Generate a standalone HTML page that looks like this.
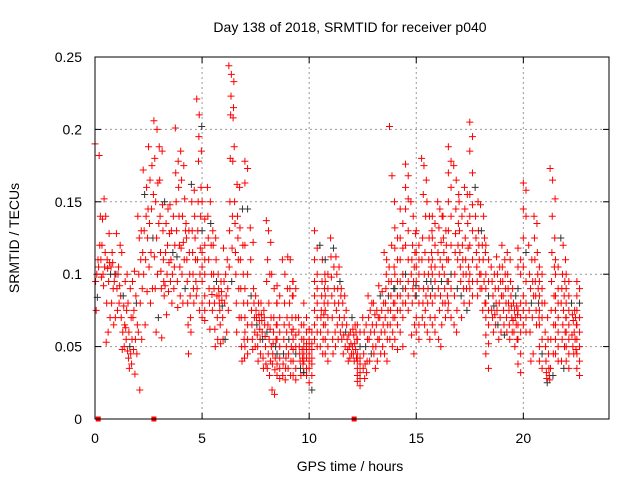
<!DOCTYPE html>
<html><head><meta charset="utf-8"><title>SRMTID p040</title>
<style>
html,body{margin:0;padding:0;background:#fff;}
svg{display:block;font-family:"Liberation Sans",sans-serif;}
</style></head>
<body>
<svg id="chart" width="640" height="480" viewBox="0 0 640 480" xmlns="http://www.w3.org/2000/svg">
<rect width="640" height="480" fill="#fff"/>
<text x="350" y="32" font-size="14" text-anchor="middle" fill="#000">Day 138 of 2018, SRMTID for receiver p040</text>
<text x="350" y="471" font-size="14" text-anchor="middle" fill="#000">GPS time / hours</text>
<text transform="translate(19,238) rotate(-90)" font-size="14" text-anchor="middle" fill="#000">SRMTID / TECUs</text>
<g id="grid"></g>
<g id="ticks"></g>
<g id="marks"></g>
<rect x="95" y="57" width="514" height="362" fill="none" stroke="#000" stroke-width="1"/>
</svg>
<script>
const xTicks = [0,5,10,15,20];
const yTicks = [0,0.05,0.1,0.15,0.2,0.25];
const yTickLabels = ["0","0.05","0.1","0.15","0.2","0.25"];
const binStarts = [0,0.25,0.5,0.75,1,1.25,1.5,1.75,2,2.25,2.5,2.75,3,3.25,3.5,3.75,4,4.25,4.5,4.75,5,5.25,5.5,5.75,6,6.25,6.5,6.75,7,7.25,7.5,7.75,8,8.25,8.5,8.75,9,9.25,9.5,9.75,10,10.25,10.5,10.75,11,11.25,11.5,11.75,12,12.25,12.5,12.75,13,13.25,13.5,13.75,14,14.25,14.5,14.75,15,15.25,15.5,15.75,16,16.25,16.5,16.75,17,17.25,17.5,17.75,18,18.25,18.5,18.75,19,19.25,19.5,19.75,20,20.25,20.5,20.75,21,21.25,21.5,21.75,22,22.25,22.5];
// values in milli-TECU per bin
const binValues = [
[190,182,110,100,95,120,105,84,75],
[140,152,138,110,105,100,98,115,92,120],
[140,128,110,100,95,80,70,60,53,108,104],
[105,100,90,80,70,65,115,100,95,108],
[128,120,105,90,85,80,75,70,92,100],
[115,95,85,75,65,60,55,50,48,63,78],
[100,90,80,70,60,55,50,47,45,42,38,35],
[95,85,75,65,55,48,45,31,70,80,102],
[140,130,125,115,110,100,90,80,60,55,20],
[172,160,155,145,140,130,125,110,100,88,65],
[188,175,165,155,145,135,125,115,105,90,80],
[206,200,180,163,150,135,125,112,100,90,70,60],
[188,185,165,148,140,130,115,110,102,95,90,85,56],
[150,145,135,128,120,115,108,100,92,88,72],
[148,140,130,120,115,110,105,100,95,90,80],
[201,178,170,160,150,140,130,120,112,105,95,85,77],
[185,175,165,152,140,130,122,118,110,100,90,80],
[135,130,125,115,110,100,95,85,80,70,65,60,45],
[162,158,150,140,130,125,115,110,100,95,90,85,80],
[221,210,202,195,185,178,160,150,140,130,118,110,100,90,75],
[150,138,130,120,115,110,105,100,95,85,80,75,70,68],
[160,150,140,135,125,120,110,100,90,86,80,75,62],
[130,125,120,110,100,95,90,85,80,70,62,55,50],
[100,95,90,88,85,82,80,78,75,70,65,55,52],
[118,110,100,95,90,85,80,75,60,55],
[244,238,233,223,215,210,208,180,178,150,140,130,118,105,95],
[188,162,150,140,135,125,115,110,100,90,80,70,60],
[160,145,132,120,110,100,90,80,70,55,50,42,40],
[178,173,163,145,120,100,90,80,70,65,60,55,50,45],
[132,122,110,90,85,80,75,70,65,60,55,50,48],
[85,80,75,72,70,68,65,62,58,55,50,45,40],
[80,75,72,70,68,65,60,57,55,50,42,38,35],
[137,130,122,110,100,95,80,70,65,62,60,55,50,45,40,35,30],
[100,90,80,70,65,60,55,52,50,45,42,38,34,20,17],
[92,85,80,70,65,60,55,50,45,42,38,35,30,28],
[110,100,90,80,70,65,60,55,50,45,42,38,35,30,27],
[112,110,95,90,85,80,70,65,60,55,50,45,40,35,30],
[95,90,85,70,62,58,55,50,48,45,40,35,30,27],
[70,65,60,55,50,48,45,42,40,38,35,32,30],
[80,70,65,60,55,52,50,48,45,42,40,35,32,30],
[62,60,55,52,50,48,45,42,40,38,35,30,25,20],
[130,118,110,100,95,90,85,80,75,70,65,60,55,50],
[120,110,100,95,90,85,80,75,72,70,65,60,55,50,45],
[110,100,95,90,85,80,75,70,65,60,55,50,45,40],
[125,118,112,105,98,90,85,80,70,60,55,50,45],
[112,105,100,95,90,85,80,75,70,65,60,55],
[90,85,80,75,70,65,60,58,55,50,45],
[65,60,58,55,52,50,48,45,42,40],
[70,65,62,60,58,55,52,50,48,45,42,40],
[65,60,55,50,45,42,40,38,35,32,30,28,26,23],
[70,65,60,55,50,45,40,38,35,32,28],
[85,80,75,70,65,60,55,50,45,40],
[80,75,72,70,65,60,55,50,45,40,35],
[92,88,85,80,75,70,65,60,55,50,45],
[115,110,105,100,95,90,85,80,75,70,65,60,55,45,40],
[202,168,150,120,105,95,90,85,80,75,70,65,60,55,50],
[132,125,118,110,100,95,90,85,80,75,70,65,55,48],
[145,135,125,118,110,100,95,90,85,80,75,70,60,50],
[176,168,160,152,145,130,120,110,100,95,90,85,80,75],
[150,140,128,120,115,110,105,100,95,92,90,85,80,65,58,45],
[130,120,115,110,105,100,95,90,85,80,70,65,60,55],
[180,175,165,155,140,125,115,110,100,95,90,85,80,75,70,65],
[150,140,130,125,115,110,105,100,95,90,85,80,70,60,55],
[140,135,125,120,110,105,100,95,90,85,80,70,65,60],
[150,145,140,132,122,115,110,105,100,95,90,85,80,75,65,55,50],
[140,130,125,120,115,110,100,95,90,85,80,75,70],
[188,178,170,160,150,140,130,120,110,100,95,90,80,70],
[175,165,155,145,135,128,120,115,110,100,90,85,75,65,60],
[150,140,130,120,115,110,105,100,95,90,85,80,70],
[160,155,145,135,125,118,110,105,100,95,90,80,75],
[205,195,185,170,155,148,140,130,120,110,100,95,90,85],
[160,150,140,130,125,120,115,110,105,100,95,90,85],
[148,140,130,125,120,115,110,100,95,90,80,75],
[120,110,100,95,90,85,80,75,70,65,58,52,45,35],
[105,100,95,90,85,80,78,75,72,70,65,60],
[112,105,100,95,90,85,80,75,70,65,60,55],
[120,110,105,100,95,90,85,80,75,70,65,60,58],
[115,110,100,95,90,85,80,78,75,70,65,60,55],
[90,85,80,78,75,72,70,68,65,60,55,50],
[118,110,105,100,90,80,75,70,65,60,55,45,38,32],
[163,158,145,140,125,115,105,95,85,80,75,70,65,60],
[120,110,100,95,90,85,80,75,70,60,45,40],
[140,135,125,115,110,100,95,90,85,80,75,70,65],
[105,100,95,90,85,80,75,70,65,55,50,45,40,35],
[80,70,60,55,50,45,40,35,32,30,28,27,25],
[173,165,152,140,125,115,105,95,85,75,65,55,45,35,30],
[110,105,100,90,85,80,75,70,65,60,55,50,45,40],
[125,120,110,100,95,90,85,80,75,70,65,60,55,50,40,35],
[100,95,90,85,80,75,70,65,60,55,50,45,40,35],
[80,75,72,70,68,65,60,58,55,50,48,45],
[95,90,85,80,75,70,65,60,55,50,45,40,35,30]
];
const zeroTimes = [0.15,2.75,12.1];

const X0=95, X1=609, Y0=419, Y1=57, XMAX=24, YMAX=0.25;
const xs = t => X0 + (X1-X0)*t/XMAX;
const ys = v => Y0 - (Y0-Y1)*v/YMAX;
const NS="http://www.w3.org/2000/svg";
const grid=document.getElementById('grid'), ticks=document.getElementById('ticks'), marks=document.getElementById('marks');
function mk(tag, attrs, parent){const e=document.createElementNS(NS,tag);for(const k in attrs)e.setAttribute(k,attrs[k]);parent.appendChild(e);return e;}

xTicks.forEach((t,i)=>{
  const x=xs(t);
  if(t>0){const g=mk('line',{x1:x,x2:x,y1:Y1,y2:Y0,stroke:'#999','stroke-dasharray':'2,3'},grid);
    
    }
  mk('line',{x1:x,x2:x,y1:Y0,y2:Y0-6,stroke:'#000'},ticks);
  mk('line',{x1:x,x2:x,y1:Y1,y2:Y1+6,stroke:'#000'},ticks);
  const l=mk('text',{x:x,y:443,'font-size':14,'text-anchor':'middle',fill:'#000'},ticks);
  l.textContent=String(t);
  
  
});
yTicks.forEach((v,i)=>{
  const y=ys(v);
  if(v>0&&v<YMAX){const g=mk('line',{x1:X0,x2:X1,y1:y,y2:y,stroke:'#999','stroke-dasharray':'2,3'},grid);
    
    }
  mk('line',{x1:X0,x2:X0+6,y1:y,y2:y,stroke:'#000'},ticks);
  mk('line',{x1:X1,x2:X1-6,y1:y,y2:y,stroke:'#000'},ticks);
  const l=mk('text',{x:82,y:y+5,'font-size':14,'text-anchor':'end',fill:'#000'},ticks);
  l.textContent=yTickLabels[i];
  
  
});

let idx=0;
binStarts.forEach((b,bi)=>{
  const vals=binValues[bi]; const n=vals.length;
  vals.forEach((mv,k)=>{
    const t=b+0.25*((k*7)%n)/n;
    const x=xs(t), y=ys(mv/1000);
    const col=(idx%15===7)?'#333':'#f00';
    const p=mk('path',{d:`M${x-3.5},${y}h7M${x},${y-3.5}v7`,stroke:col,'stroke-width':1,fill:'none'},marks);
    
    
    idx++;
  });
});
zeroTimes.forEach(t=>{
  const r=mk('rect',{x:xs(t)-2.5,y:Y0-2.5,width:5,height:5,fill:'#f00'},marks);
  
  
});
</script>
</body></html>
